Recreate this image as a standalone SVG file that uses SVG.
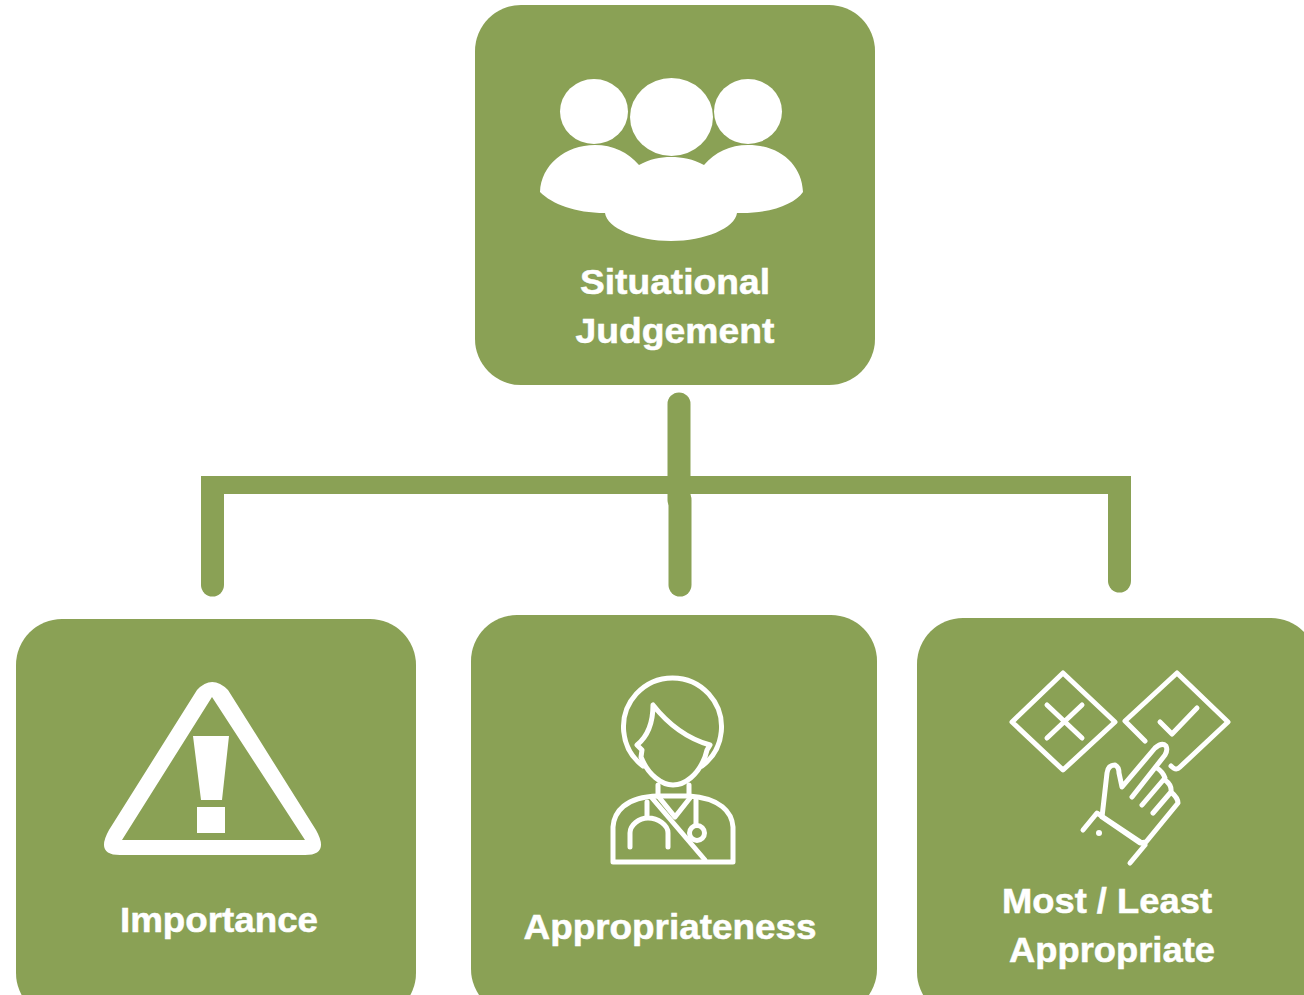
<svg xmlns="http://www.w3.org/2000/svg" width="1304" height="995" viewBox="0 0 1304 995">
<style>
.box{fill:#8AA155}
.lbl{font-family:"Liberation Sans",Arial,sans-serif;font-weight:700;font-size:35px;fill:#fff;stroke:#fff;stroke-width:.5;text-anchor:middle}
.w{fill:#fff}
.ln{fill:none;stroke:#fff;stroke-width:5;stroke-linecap:round;stroke-linejoin:round}
.conn{fill:none;stroke:#8AA155;stroke-width:23;stroke-linecap:round}
</style>
<rect width="1304" height="995" fill="#fff"/>
<g id="connectors">
<path class="conn" d="M679 404V500"/>
<path class="conn" d="M680 500V585"/>
<path class="conn" d="M212.500 490V585"/>
<path class="conn" d="M1119.500 490V581"/>
<rect x="201" y="476" width="930" height="18" fill="#8AA155"/>
</g>
<g id="node-situational-judgement">
<rect class="box" x="475" y="5" width="400" height="380" rx="46"/>
<ellipse class="w" cx="594" cy="111.500" rx="34" ry="32.500"/>
<ellipse class="w" cx="671.500" cy="117" rx="41.500" ry="39"/>
<ellipse class="w" cx="748" cy="111.500" rx="34" ry="32.500"/>
<path class="w" d="M540 192C541 165 565 145 595 145C613 145 628 152 639 165C650 159 660 157 671 157C682 157 693 159 704 165C715 152 730 145 748 145C780 145 802 165 803 192C795 204 770 214 737 213C735 228 705 241 671 241C637 241 607 228 605 213C575 213 552 204 540 192Z"/>
<text class="lbl" x="675" y="294" textLength="190" lengthAdjust="spacingAndGlyphs">Situational</text>
<text class="lbl" x="675" y="343" textLength="199" lengthAdjust="spacingAndGlyphs">Judgement</text>
</g>
<g id="node-importance">
<rect class="box" x="16" y="619" width="400" height="400" rx="46"/>
<path class="w" fill-rule="evenodd" d="M197 690Q212 674 228 690L316 830Q330 855 305 855H120Q95 855 109 830ZM212 697L122 840H305Z"/>
<path class="w" d="M193 736H229L222 800H201ZM197 807H225V833H197Z"/>
<text class="lbl" x="219" y="932" textLength="198" lengthAdjust="spacingAndGlyphs">Importance</text>
</g>
<g id="node-appropriateness">
<rect class="box" x="471" y="615" width="406" height="400" rx="46"/>
<path class="ln" d="M643 766A49 49 0 1 1 702 766"/>
<path class="ln" d="M637 745L642 750L641 757C648 775 662 785 673 785C685 785 698 775 705 757L707 750L710 745C685 738 668 724 653 705C653 722 648 736 637 745Z"/>
<path class="ln" d="M658 785V796H689V785"/>
<path class="ln" d="M658 796C625 797 614 812 613 827V862H733V827C732 812 720 798 689 796"/>
<path class="ln" d="M658 796L675 817L690 798M652 798L705 860M696 800V825"/>
<circle class="ln" cx="697" cy="833" r="7.500"/>
<path class="ln" d="M647 802V817M630 847V833C630 825 639 818 648 818C658 818 668 825 668 833V847"/>
<text class="lbl" x="670" y="939" textLength="293" lengthAdjust="spacingAndGlyphs">Appropriateness</text>
</g>
<g id="node-most-least-appropriate">
<rect class="box" x="917" y="618" width="400" height="400" rx="46"/>
<path class="ln" d="M1063 673L1115 722L1063 770L1012 722Z"/>
<path class="ln" d="M1047 705L1082 738M1082 705L1047 738"/>
<path class="ln" d="M1145 741L1125 721L1177 673L1228 722L1180 767C1176 771 1173 768 1171 766"/>
<path class="ln" d="M1160 722L1172 734L1197 708"/>
<path class="ln" d="M1102 817L1107 773Q1108 765 1115 765Q1119 767 1119 773L1122 787L1155 748Q1162 742 1166 746Q1168 750 1165 755L1132 797M1157 768Q1163 772 1165 778L1142 805M1165 780Q1172 785 1171 792L1153 813M1171 792Q1178 798 1178 803L1146 842L1140 843L1102 817"/>
<path class="ln" d="M1083 830L1097 813L1145 845L1130 863"/>
<circle class="w" cx="1099" cy="833" r="3"/>
<text class="lbl" x="1107" y="913" textLength="210" lengthAdjust="spacingAndGlyphs">Most / Least</text>
<text class="lbl" x="1112" y="962" textLength="206" lengthAdjust="spacingAndGlyphs">Appropriate</text>
</g>
</svg>
